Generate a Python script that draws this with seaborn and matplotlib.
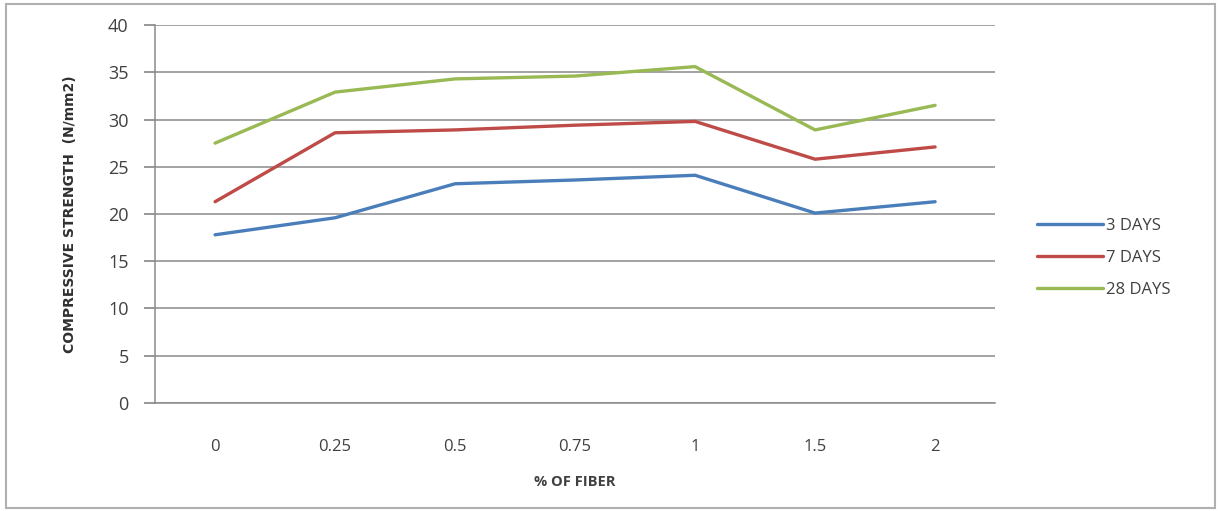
import matplotlib
matplotlib.use("Agg")
import matplotlib.pyplot as plt
import matplotlib.patches as mpatches
import seaborn as sns
import pandas as pd

# Fiber content (%) and compressive strength (N/mm2) at each curing age
fiber = ["0", "0.25", "0.5", "0.75", "1", "1.5", "2"]
days3 = [17.8, 19.6, 23.2, 23.6, 24.1, 20.1, 21.3]
days7 = [21.3, 28.6, 28.9, 29.4, 29.8, 25.8, 27.1]
days28 = [27.5, 32.9, 34.3, 34.6, 35.6, 28.9, 31.5]
series = ["3 DAYS", "7 DAYS", "28 DAYS"]
colors = ["#4A7EBB", "#BE4B48", "#98B954"]
yticks = [0, 5, 10, 15, 20, 25, 30, 35, 40]

df = pd.DataFrame({
    "fiber": fiber * 3,
    "strength": days3 + days7 + days28,
    "age": [s for s in series for _ in fiber],
})

sns.set_theme(style="white")
plt.rcParams["font.family"] = ["Open Sans", "DejaVu Sans"]

fig = plt.figure(figsize=(12.21, 5.11), dpi=100)
ax = fig.add_axes([0.127, 0.2114, 0.688, 0.7396])

sns.lineplot(data=df, x="fiber", y="strength", hue="age", hue_order=series,
             palette=colors, linewidth=2.4, sort=False, ax=ax, legend=True)

ax.set_xlim(-0.5, len(fiber) - 0.5)
ax.set_ylim(0, 40)
ax.set_yticks(yticks)
ax.yaxis.grid(True, color="#8a8a8a", linewidth=1.1)
ax.xaxis.grid(False)
for side in ["top", "right"]:
    ax.spines[side].set_visible(False)
ax.spines["left"].set_color("#8a8a8a")
ax.spines["bottom"].set_color("#8a8a8a")
ax.spines["left"].set_linewidth(1.1)
ax.spines["bottom"].set_linewidth(1.1)
ax.tick_params(axis="y", which="both", left=True, length=8, color="#8a8a8a",
               labelsize=13, labelcolor="#404040", pad=11)
ax.tick_params(axis="x", bottom=False, labelsize=12, labelcolor="#404040", pad=20)

ax.set_xlabel("% OF FIBER", fontsize=10.5, fontweight="bold", color="#404040",
              labelpad=14)
ax.set_ylabel("COMPRESSIVE STRENGTH  (N/mm2)", fontsize=10, fontweight="bold",
              color="#303030", labelpad=22,
              family=["Liberation Sans Narrow", "DejaVu Sans"])

handles, labels = ax.get_legend_handles_labels()
ax.get_legend().remove()
leg = fig.legend(handles, labels, loc="center left",
                 bbox_to_anchor=(1030 / 1221, 1 - 258 / 511), frameon=False,
                 fontsize=12, handlelength=4.0, handletextpad=0.15,
                 labelspacing=0.95, borderaxespad=0)
for t in leg.get_texts():
    t.set_color("#404040")

# outer chart border
fig.patches.append(mpatches.Rectangle((0.005, 0.006), 0.99, 0.986,
                                      transform=fig.transFigure, fill=False,
                                      edgecolor="#b0b0b0", linewidth=1.5))

fig.savefig("out.png", dpi=100)
